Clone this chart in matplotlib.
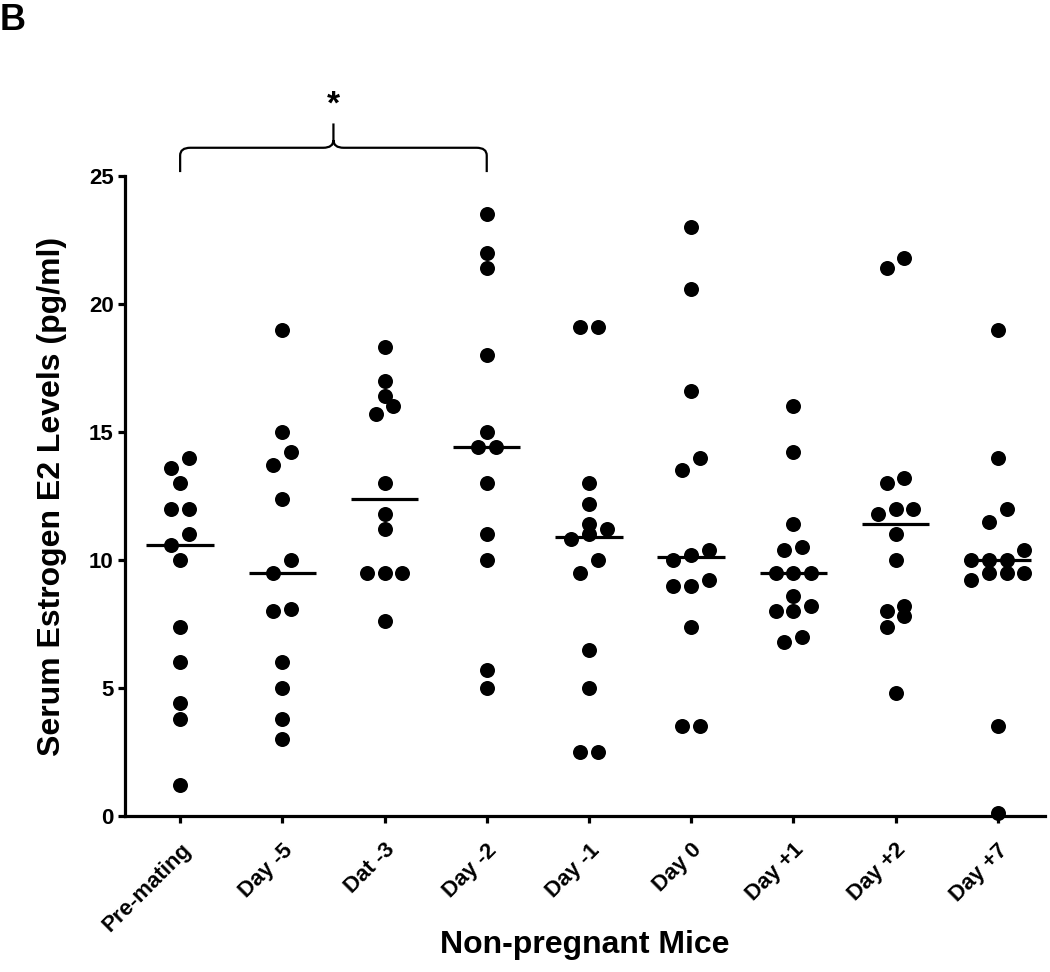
import numpy as np
import matplotlib.pyplot as plt
from matplotlib.path import Path
from matplotlib.patches import PathPatch

plt.rcParams["font.family"] = ["Liberation Sans", "DejaVu Sans"]
plt.rcParams["font.weight"] = "bold"

# ---------- DATA ----------
groups = ["Pre-mating", "Day -5", "Dat -3", "Day -2", "Day -1",
          "Day 0", "Day +1", "Day +2", "Day +7"]

pre_mating = [14.0, 13.6, 13.0, 12.0, 12.0, 11.0, 10.6, 10.0, 7.4, 6.0, 4.4, 3.8, 1.2]
day_m5 = [19.0, 15.0, 14.2, 13.7, 12.4, 10.0, 9.5, 8.1, 8.0, 6.0, 5.0, 3.8, 3.0]
day_m3 = [18.3, 17.0, 16.4, 16.0, 15.7, 13.0, 11.8, 11.2, 9.5, 9.5, 9.5, 7.6]
day_m2 = [23.5, 22.0, 21.4, 18.0, 15.0, 14.4, 14.4, 13.0, 11.0, 10.0, 5.7, 5.0]
day_m1 = [19.1, 19.1, 13.0, 12.2, 11.4, 11.2, 11.0, 10.8, 10.0, 9.5, 6.5, 5.0, 2.5, 2.5]
day_0 = [23.0, 20.6, 16.6, 14.0, 13.5, 10.4, 10.2, 10.0, 9.2, 9.0, 9.0, 7.4, 3.5, 3.5]
day_p1 = [16.0, 14.2, 11.4, 10.5, 10.4, 9.5, 9.5, 9.5, 8.6, 8.2, 8.0, 8.0, 7.0, 6.8]
day_p2 = [21.8, 21.4, 13.2, 13.0, 12.0, 12.0, 11.8, 11.0, 10.0, 8.2, 8.0, 7.8, 7.4, 4.8]
day_p7 = [19.0, 14.0, 12.0, 11.5, 10.4, 10.0, 10.0, 10.0, 9.5, 9.5, 9.5, 9.2, 3.5, 0.1]

values = [pre_mating, day_m5, day_m3, day_m2, day_m1, day_0, day_p1, day_p2, day_p7]

y_ticks = [0, 5, 10, 15, 20, 25]

# ---------- FIGURE ----------
fig = plt.figure(figsize=(10.5, 9.72), dpi=100)
ax = fig.add_axes([0.119, 0.1605, 0.876, 0.6585])
ax.set_xlim(-0.54, 8.46)
ax.set_ylim(0, 25)

DOT_PX = 15.0     # dot diameter in pixels
STEP = 0.173      # horizontal step between dots sharing a row (x units)
ROW_H = 0.55      # values closer than this share a row (y units)


def row_offsets(vals):
    """GraphPad-like scatter: dots that fall in the same row are spread evenly."""
    vals = np.asarray(vals)
    order = np.argsort(vals)
    offs = np.zeros(len(vals))
    row = [order[0]]
    rows = []
    for idx in order[1:]:
        if vals[idx] - vals[row[0]] < ROW_H:
            row.append(idx)
        else:
            rows.append(row)
            row = [idx]
    rows.append(row)
    for r in rows:
        n = len(r)
        for j, idx in enumerate(r):
            offs[idx] = (j - (n - 1) / 2) * STEP
    return offs


for i, vals in enumerate(values):
    vals = np.array(vals)
    xs = i + row_offsets(vals)
    ax.scatter(xs, vals, s=(DOT_PX * 0.72) ** 2, color="black", zorder=3,
               clip_on=False, linewidths=0)
    ax.hlines(np.median(vals), i - 0.33, i + 0.33, color="black", lw=2.3, zorder=4)

# axes styling
for side in ["top", "right"]:
    ax.spines[side].set_visible(False)
for side in ["left", "bottom"]:
    ax.spines[side].set_linewidth(2.3)

ax.set_yticks(y_ticks)
ax.set_xticks(range(len(groups)))
ax.set_xticklabels(groups, rotation=45, ha="right", rotation_mode="anchor")
ax.tick_params(axis="both", direction="out", length=5, width=2.3, labelsize=16, pad=3)
ax.tick_params(axis="x", pad=12)

ax.set_ylabel("Serum Estrogen E2 Levels (pg/ml)", fontsize=23, fontweight="bold", labelpad=16)
fig.text(0.557, 0.012, "Non-pregnant Mice", fontsize=23, fontweight="bold", ha="center", va="bottom")
fig.text(0.0, 0.997, "B", fontsize=26, fontweight="bold", ha="left", va="top")

# significance bracket between Pre-mating and Day -2
x0, x1, xm = 0, 3, 1.5
yb, yh, yt = 25.15, 26.1, 27.05
verts = [(x0, yb), (x0, yh - 0.3), (x0, yh), (x0 + 0.1, yh), (xm - 0.1, yh),
         (xm, yh), (xm, yh + 0.3), (xm, yt),
         (xm, yh + 0.3), (xm, yh), (xm + 0.1, yh), (x1 - 0.1, yh),
         (x1, yh), (x1, yh - 0.3), (x1, yb)]
codes = [Path.MOVETO, Path.LINETO, Path.CURVE3, Path.CURVE3, Path.LINETO,
         Path.CURVE3, Path.CURVE3, Path.LINETO,
         Path.MOVETO, Path.CURVE3, Path.CURVE3, Path.LINETO,
         Path.CURVE3, Path.CURVE3, Path.LINETO]
ax.add_patch(PathPatch(Path(verts, codes), fill=False, lw=1.6, color="black", clip_on=False))
ax.text(xm, 27.75, "*", fontsize=24, fontweight="bold", ha="center", va="center")

fig.savefig("out.png", dpi=100)
